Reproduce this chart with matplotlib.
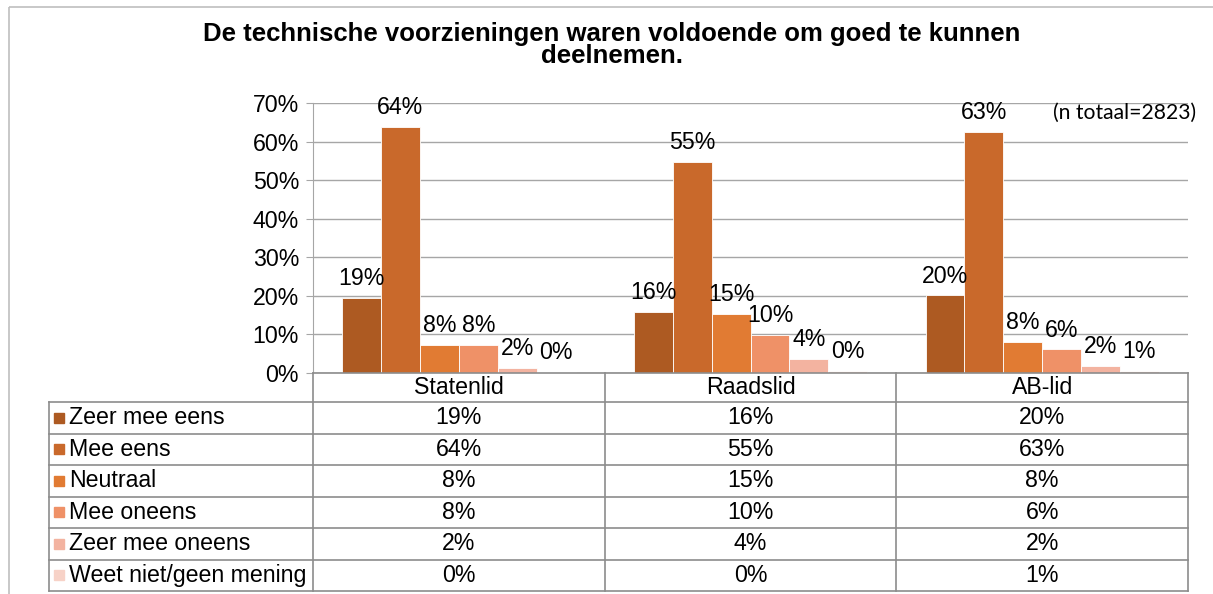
import matplotlib
matplotlib.use('Agg')
import matplotlib.pyplot as plt
from matplotlib.patches import Rectangle
import numpy as np

# ---------------- data ----------------
categories = ['Statenlid', 'Raadslid', 'AB-lid']
series_names = ['Zeer mee eens', 'Mee eens', 'Neutraal', 'Mee oneens',
                'Zeer mee oneens', 'Weet niet/geen mening']
# bar heights (%)
zeer_mee_eens = [19.4, 15.8, 20.1]
mee_eens = [63.8, 54.6, 62.6]
neutraal = [7.3, 15.2, 8.0]
mee_oneens = [7.3, 9.8, 6.1]
zeer_mee_oneens = [1.4, 3.6, 1.9]
weet_niet = [0.2, 0.45, 0.6]
# rounded percentages shown in labels and table
lbl_zeer_mee_eens = [19, 16, 20]
lbl_mee_eens = [64, 55, 63]
lbl_neutraal = [8, 15, 8]
lbl_mee_oneens = [8, 10, 6]
lbl_zeer_mee_oneens = [2, 4, 2]
lbl_weet_niet = [0, 0, 1]

values = [zeer_mee_eens, mee_eens, neutraal, mee_oneens, zeer_mee_oneens, weet_niet]
labels = [lbl_zeer_mee_eens, lbl_mee_eens, lbl_neutraal, lbl_mee_oneens,
          lbl_zeer_mee_oneens, lbl_weet_niet]
colors = ['#AD5A22', '#C9692B', '#E17B33', '#EF9167', '#F3B3A0', '#F7D2C7']

title_line1 = 'De technische voorzieningen waren voldoende om goed te kunnen'
title_line2 = 'deelnemen.'
note = '(n totaal=2823)'
yticks = [0, 10, 20, 30, 40, 50, 60, 70]

# ---------------- layout ----------------
W, H = 1213, 594
fig = plt.figure(figsize=(W / 100, H / 100), dpi=100)
FONT = 'Liberation Sans'
FS = 16.7
GRID = '#A6A6A6'

x_left, x_right = 313, 1188
y_top, y_bot = 103, 373
ax = fig.add_axes([x_left / W, 1 - y_bot / H, (x_right - x_left) / W, (y_bot - y_top) / H])

n = len(values)
w = 1 / 7.5
x = np.arange(len(categories))
for i, (vals, lbs, c) in enumerate(zip(values, labels, colors)):
    xs = x + (i - (n - 1) / 2) * w
    ax.bar(xs, vals, width=w, color=c, edgecolor='white', linewidth=0.6, zorder=3)
    for xi, v, lb in zip(xs, vals, lbs):
        ax.annotate(f'{lb}%', (xi, v), xytext=(0, 9.3), textcoords='offset points',
                    ha='center', va='baseline', fontsize=FS, family=FONT, zorder=4)

ax.set_xlim(-0.5, len(categories) - 0.5)
ax.set_ylim(0, 70)
ax.set_yticks(yticks)
ax.set_yticklabels([f'{t}%' for t in yticks], fontsize=FS, family=FONT)
ax.set_xticks([])
ax.yaxis.grid(True, color=GRID, linewidth=1.0, zorder=0)
ax.set_axisbelow(True)
for s in ['top', 'right', 'bottom']:
    ax.spines[s].set_visible(False)
ax.spines['left'].set_color(GRID)
ax.tick_params(axis='y', length=5, color=GRID, pad=5)

# ---------------- overlay (pixel coords) ----------------
ov = fig.add_axes([0, 0, 1, 1], zorder=-1)
ov.set_xlim(0, W)
ov.set_ylim(H, 0)
ov.axis('off')

# outer frame
ov.add_patch(Rectangle((9, 7), W + 20, H + 20, fill=False, edgecolor='#BFBFBF', linewidth=1.2))

ov.text(612, 41, title_line1, ha='center', va='baseline', fontsize=18.5,
        fontweight='bold', family=FONT)
ov.text(612, 63, title_line2, ha='center', va='baseline', fontsize=18.5,
        fontweight='bold', family=FONT)

# data table
col_edges = np.linspace(x_left, x_right, len(categories) + 1)
leg_left = 49
head_bot = 402
row_h = 31.5
row_edges = [head_bot + k * row_h for k in range(len(series_names) + 1)]
tcol = '#8C8C8C'

ov2 = fig.add_axes([0, 0, 1, 1], zorder=5)
ov2.set_xlim(0, W)
ov2.set_ylim(H, 0)
ov2.axis('off')
ov2.text(1125, 113, note, ha='center', va='center', fontsize=15.2, family='Lato')
ov2.plot([x_left, x_right], [y_bot, y_bot], color=tcol, lw=1.2)
for ce in col_edges:
    ov2.plot([ce, ce], [y_bot, row_edges[-1]], color=tcol, lw=1.2)
ov2.plot([leg_left, leg_left], [row_edges[0], row_edges[-1]], color=tcol, lw=1.2)
for re_ in row_edges:
    ov2.plot([leg_left, x_right], [re_, re_], color=tcol, lw=1.2)

for j, cat in enumerate(categories):
    cx = (col_edges[j] + col_edges[j + 1]) / 2
    ov2.text(cx, 388, cat, ha='center', va='center', fontsize=FS, family=FONT)

for i, (name, lbs, c) in enumerate(zip(series_names, labels, colors)):
    cy = (row_edges[i] + row_edges[i + 1]) / 2
    ov2.add_patch(Rectangle((54, cy - 5), 10, 10, color=c))
    ov2.text(69, cy, name, ha='left', va='center', fontsize=FS, family=FONT)
    for j, lb in enumerate(lbs):
        cx = (col_edges[j] + col_edges[j + 1]) / 2
        ov2.text(cx, cy, f'{lb}%', ha='center', va='center', fontsize=FS, family=FONT)

fig.savefig('out.png', dpi=100)
